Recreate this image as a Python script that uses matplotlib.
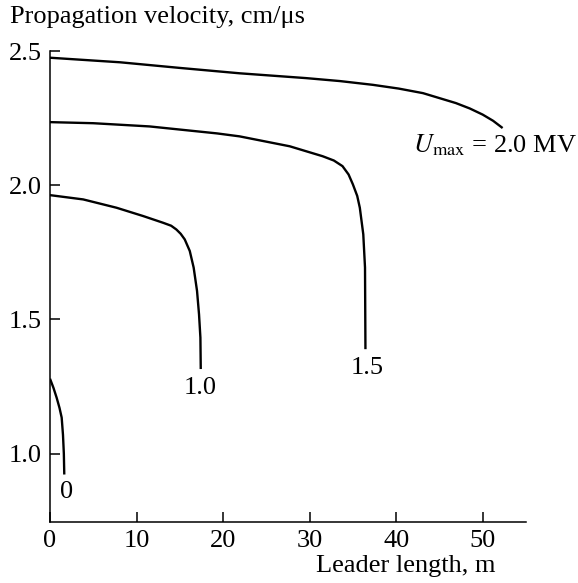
import matplotlib
matplotlib.use("Agg")
import matplotlib.pyplot as plt

# curves: leader length (m) vs propagation velocity (cm/us)
x_u0 = [0.0, 0.4, 0.77, 1.1, 1.35, 1.5, 1.6, 1.65]
y_u0 = [1.279, 1.245, 1.208, 1.17, 1.134, 1.07, 1.0, 0.922]

x_u10 = [0.0, 3.84, 7.69, 10.77, 13.07, 14.0, 14.6, 15.1, 15.57, 16.15, 16.6,
         16.99, 17.22, 17.38, 17.42]
y_u10 = [1.963, 1.947, 1.916, 1.885, 1.860, 1.849, 1.835, 1.819, 1.798, 1.755,
         1.693, 1.606, 1.519, 1.432, 1.315]

x_u15 = [0.0, 5.0, 11.5, 19.3, 21.9, 27.7, 31.5, 32.8, 33.8, 34.5, 35.0, 35.5,
         35.8, 36.2, 36.4, 36.45]
y_u15 = [2.235, 2.231, 2.219, 2.193, 2.182, 2.145, 2.108, 2.092, 2.071, 2.04,
         2.003, 1.96, 1.916, 1.817, 1.693, 1.389]

x_u20 = [0.0, 8.1, 15.0, 21.9, 29.6, 33.5, 37.3, 40.3, 43.1, 46.9, 48.5, 50.0,
         51.2, 52.3]
y_u20 = [2.475, 2.458, 2.437, 2.417, 2.399, 2.388, 2.374, 2.36, 2.343, 2.306,
         2.286, 2.263, 2.24, 2.213]

curvas = [(x_u0, y_u0), (x_u10, y_u10), (x_u15, y_u15), (x_u20, y_u20)]
rotulos = ["0", "1.0", "1.5", r"$U_{\mathrm{max}}$ = 2.0 MV"]
pos_rotulos = [(1.96, 0.855), (17.3, 1.245), (36.7, 1.32), (42.0, 2.15)]

plt.rcParams["font.family"] = ["Liberation Serif", "DejaVu Serif"]
plt.rcParams["mathtext.fontset"] = "stix"
FS = 19

fig = plt.figure(figsize=(5.78, 5.83), dpi=100)
ax = fig.add_axes([0.0865, 0.1046, 0.8235, 0.8079])

for (xs, ys) in curvas:
    ax.plot(xs, ys, color="black", lw=1.7, solid_capstyle="butt",
            solid_joinstyle="round")

for txt, (tx, ty) in zip(rotulos, pos_rotulos):
    ha = "left" if txt.startswith("$") else "center"
    ax.text(tx, ty, txt, ha=ha, va="center", fontsize=FS)

ax.set_xlim(0, 55)
ax.set_ylim(0.745, 2.5)
ax.set_xticks([0, 10, 20, 30, 40, 50])
ax.set_yticks([1.0, 1.5, 2.0, 2.5])
ax.set_yticklabels(["1.0", "1.5", "2.0", "2.5"])
ax.tick_params(direction="in", length=7, width=1.1, labelsize=FS, pad=6)
for s in ["top", "right"]:
    ax.spines[s].set_visible(False)
for s in ["left", "bottom"]:
    ax.spines[s].set_linewidth(1.1)

fig.text(10 / 578, 1 - 17 / 583, "Propagation velocity, cm/\u03bcs",
         ha="left", va="center", fontsize=FS)
fig.text(495 / 578, 1 - 566 / 583, "Leader length, m",
         ha="right", va="center", fontsize=FS)

fig.savefig("out.png", dpi=100)
